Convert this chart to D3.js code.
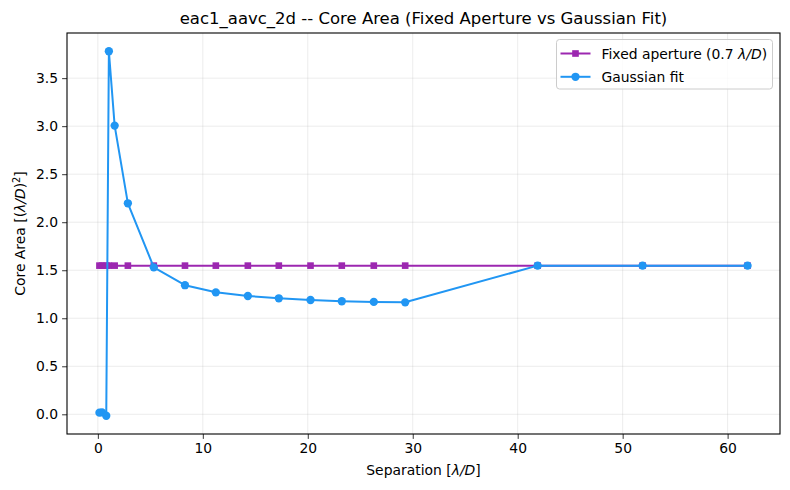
<!DOCTYPE html>
<html>
<head>
<meta charset="utf-8">
<script src="https://cdn.jsdelivr.net/npm/d3@7"></script>
<style>
  body { margin: 0; background: #fff; }
  text { font-family: "DejaVu Sans", sans-serif; }
</style>
</head>
<body>
<svg id="chart"></svg>
<script>
// separations in lambda/D
var separations = [0.15, 0.4, 0.8, 1.05, 1.6, 2.86, 5.33, 8.3, 11.24, 14.29, 17.24, 20.26, 23.24, 26.29, 29.28, 41.9, 51.9, 61.9];
var fixedArea = [1.548, 1.548, 1.548, 1.548, 1.548, 1.548, 1.548, 1.548, 1.548, 1.548, 1.548, 1.548, 1.548, 1.548, 1.548, 1.548, 1.548, 1.548];
var gaussArea = [0.017, 0.02, -0.015, 3.78, 3.006, 2.197, 1.53, 1.344, 1.27, 1.232, 1.208, 1.19, 1.177, 1.17, 1.166, 1.548, 1.548, 1.548];
var xTicks = [0, 10, 20, 30, 40, 50, 60];
var yTicks = [0, 0.5, 1.0, 1.5, 2.0, 2.5, 3.0, 3.5];

function start() {
    var W = 790, H = 490;
    var pl = 67, pr = 780, pt = 33, pb = 434;

    var svg = d3.select('#chart')
        .attr('width', W)
        .attr('height', H);

    var x = d3.scaleLinear().domain([-2.94, 64.99]).range([pl, pr]);
    var y = d3.scaleLinear().domain([-0.205, 3.97]).range([pb, pt]);

    // grid
    var grid = svg.append('g');
    grid.selectAll('line.gx')
        .data(xTicks)
        .enter().append('line')
        .attr('x1', function(d) { return x(d); })
        .attr('x2', function(d) { return x(d); })
        .attr('y1', pt).attr('y2', pb)
        .style('stroke', '#b0b0b0').style('stroke-opacity', 0.3).style('stroke-width', 0.8);
    grid.selectAll('line.gy')
        .data(yTicks)
        .enter().append('line')
        .attr('y1', function(d) { return y(d); })
        .attr('y2', function(d) { return y(d); })
        .attr('x1', pl).attr('x2', pr)
        .style('stroke', '#b0b0b0').style('stroke-opacity', 0.3).style('stroke-width', 0.8);

    var purple = '#9c27b0', blue = '#2196f3';

    function series(vals, color, shape) {
        var pts = separations.map(function(s, i) { return [s, vals[i]]; });
        var line = d3.line()
            .x(function(d) { return x(d[0]); })
            .y(function(d) { return y(d[1]); });
        svg.append('path')
            .datum(pts)
            .attr('d', line)
            .style('fill', 'none')
            .style('stroke', color)
            .style('stroke-width', 2)
            .style('stroke-linejoin', 'round');
        var sym = d3.symbol().type(shape === 'square' ? d3.symbolSquare : d3.symbolCircle)
            .size(shape === 'square' ? 44 : 54);
        svg.append('g').selectAll('path')
            .data(pts)
            .enter().append('path')
            .attr('d', sym)
            .attr('transform', function(d) { return 'translate(' + x(d[0]) + ',' + y(d[1]) + ')'; })
            .style('fill', color);
    }
    series(fixedArea, purple, 'square');
    series(gaussArea, blue, 'circle');

    // axes
    var xAxis = d3.axisBottom(x).tickValues(xTicks).tickSize(4.9).tickPadding(4).tickSizeOuter(0)
        .tickFormat(d3.format('d'));
    var gx = svg.append('g').attr('transform', 'translate(0,' + pb + ')').call(xAxis);
    var yAxis = d3.axisLeft(y).tickValues(yTicks).tickSize(4.9).tickPadding(4).tickSizeOuter(0)
        .tickFormat(d3.format('.1f'));
    var gy = svg.append('g').attr('transform', 'translate(' + pl + ',0)').call(yAxis);
    [gx, gy].forEach(function(g) {
        g.select('.domain').remove();
        g.selectAll('text').style('font-size', '13.9px').style('font-family', '"DejaVu Sans", sans-serif').style('fill', '#000');
        g.selectAll('line').style('stroke', '#000').style('stroke-width', 0.8);
    });

    // frame
    svg.append('rect')
        .attr('x', pl).attr('y', pt)
        .attr('width', pr - pl).attr('height', pb - pt)
        .style('fill', 'none').style('stroke', '#000').style('stroke-width', 1.1);

    // title
    svg.append('text')
        .attr('x', (pl + pr) / 2).attr('y', 24)
        .attr('text-anchor', 'middle')
        .style('font-size', '16.5px')
        .text('eac1_aavc_2d -- Core Area (Fixed Aperture vs Gaussian Fit)');

    // x label
    var xl = svg.append('text')
        .attr('x', (pl + pr) / 2).attr('y', 475)
        .attr('text-anchor', 'middle')
        .style('font-size', '13.9px');
    xl.append('tspan').text('Separation [');
    xl.append('tspan').style('font-style', 'italic').text('λ/D');
    xl.append('tspan').text(']');

    // y label
    var yl = svg.append('text')
        .attr('transform', 'translate(25,' + ((pt + pb) / 2) + ') rotate(-90)')
        .attr('text-anchor', 'middle')
        .style('font-size', '13.9px');
    yl.append('tspan').text('Core Area [(');
    yl.append('tspan').style('font-style', 'italic').text('λ/D');
    yl.append('tspan').text(')');
    yl.append('tspan').attr('baseline-shift', 'super').style('font-size', '9.7px').text('2');
    yl.append('tspan').text(']');

    // legend
    var lg = svg.append('g');
    lg.append('rect')
        .attr('x', 556.5).attr('y', 39.5)
        .attr('width', 216).attr('height', 49.5)
        .attr('rx', 3)
        .style('fill', '#fff').style('fill-opacity', 0.8)
        .style('stroke', '#cccccc').style('stroke-width', 1);
    var items = [
        { color: purple, shape: 'square', label: ['Fixed aperture (0.7 ', 'λ/D', ')'] },
        { color: blue, shape: 'circle', label: ['Gaussian fit'] }
    ];
    items.forEach(function(it, i) {
        var yy = 53.5 + i * 23.3;
        lg.append('line')
            .attr('x1', 560.5).attr('x2', 590.5)
            .attr('y1', yy).attr('y2', yy)
            .style('stroke', it.color).style('stroke-width', 2);
        lg.append('path')
            .attr('d', d3.symbol().type(it.shape === 'square' ? d3.symbolSquare : d3.symbolCircle).size(it.shape === 'square' ? 44 : 54))
            .attr('transform', 'translate(575.5,' + yy + ')')
            .style('fill', it.color);
        var t = lg.append('text')
            .attr('x', 601.5).attr('y', yy + 5)
            .style('font-size', '13.9px');
        it.label.forEach(function(s, k) {
            t.append('tspan').style('font-style', k === 1 ? 'italic' : 'normal').text(s);
        });
    });
}

start();
</script>
</body>
</html>
